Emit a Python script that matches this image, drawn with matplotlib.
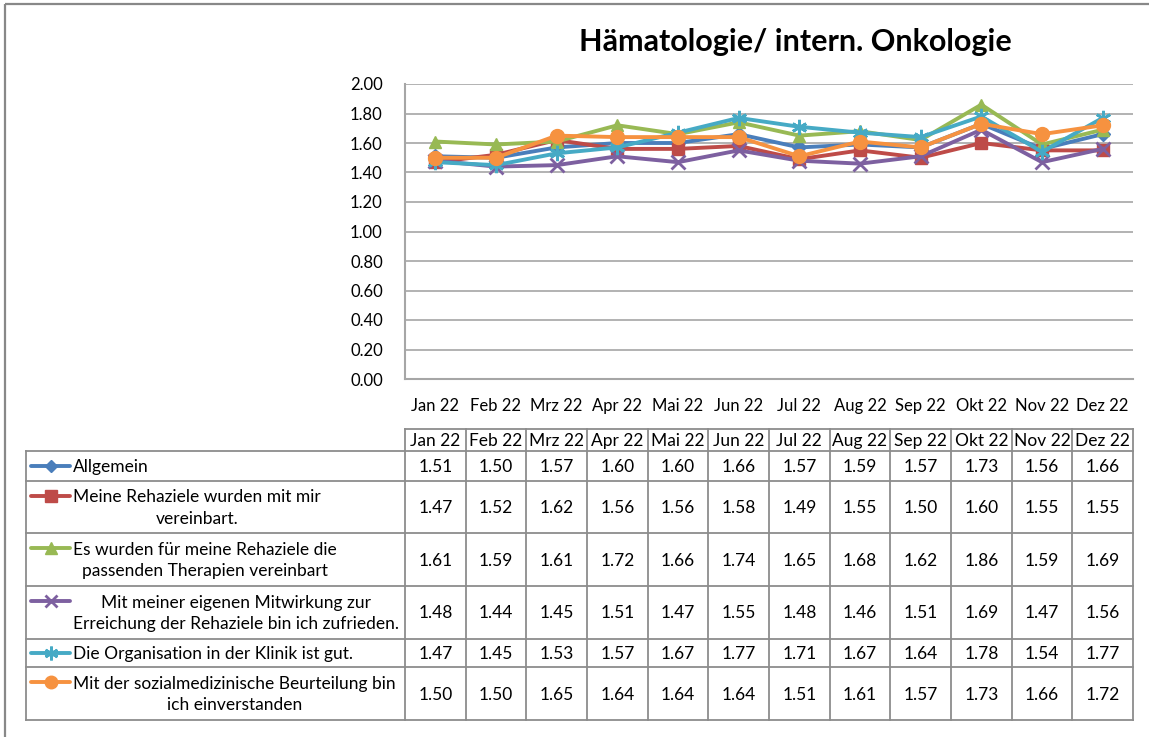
import matplotlib
matplotlib.use("Agg")
import matplotlib.pyplot as plt
from matplotlib.lines import Line2D
from matplotlib.patches import Rectangle

plt.rcParams['font.family'] = ['Lato', 'DejaVu Sans']

months = ["Jan 22", "Feb 22", "Mrz 22", "Apr 22", "Mai 22", "Jun 22",
          "Jul 22", "Aug 22", "Sep 22", "Okt 22", "Nov 22", "Dez 22"]

series_names = [
    "Allgemein",
    "Meine Rehaziele wurden mit mir\nvereinbart.",
    "Es wurden für meine Rehaziele die\npassenden Therapien vereinbart",
    "Mit meiner eigenen Mitwirkung zur\nErreichung der Rehaziele bin ich zufrieden.",
    "Die Organisation in der Klinik ist gut.",
    "Mit der sozialmedizinische Beurteilung bin\nich einverstanden",
]

allgemein = [1.51, 1.50, 1.57, 1.60, 1.60, 1.66, 1.57, 1.59, 1.57, 1.73, 1.56, 1.66]
rehaziele = [1.47, 1.52, 1.62, 1.56, 1.56, 1.58, 1.49, 1.55, 1.50, 1.60, 1.55, 1.55]
therapien = [1.61, 1.59, 1.61, 1.72, 1.66, 1.74, 1.65, 1.68, 1.62, 1.86, 1.59, 1.69]
mitwirkung = [1.48, 1.44, 1.45, 1.51, 1.47, 1.55, 1.48, 1.46, 1.51, 1.69, 1.47, 1.56]
organisation = [1.47, 1.45, 1.53, 1.57, 1.67, 1.77, 1.71, 1.67, 1.64, 1.78, 1.54, 1.77]
beurteilung = [1.50, 1.50, 1.65, 1.64, 1.64, 1.64, 1.51, 1.61, 1.57, 1.73, 1.66, 1.72]

all_series = [allgemein, rehaziele, therapien, mitwirkung, organisation, beurteilung]

colors = ["#4A7EBB", "#BE4B48", "#98B954", "#7D60A0", "#46AAC5", "#F69240"]
markers = ["D", "s", "^", "x", (6, 2, 0), "o"]
msizes = [7, 9, 9, 10, 11, 10]

W, H = 1149, 737
fig = plt.figure(figsize=(W / 100, H / 100), dpi=100)

# pixel geometry
px_l, px_r, px_t, px_b = 405, 1133, 84, 379
ax = fig.add_axes([px_l / W, 1 - px_b / H, (px_r - px_l) / W, (px_b - px_t) / H])

x = list(range(len(months)))
for vals, c, m, ms in zip(all_series, colors, markers, msizes):
    mew = 2.0 if m in ("x", (6, 2, 0)) else 1.0
    ax.plot(x, vals, color=c, lw=2.8, marker=m, markersize=ms,
            markeredgecolor=c, markerfacecolor=c, markeredgewidth=mew, zorder=3)

ax.set_xlim(-0.5, len(months) - 0.5)
ax.set_ylim(0, 2.0)
ax.set_yticks([i * 0.2 for i in range(11)])
ax.set_yticklabels([f"{i * 0.2:.2f}" for i in range(11)], fontsize=12)
ax.set_xticks(x)
ax.set_xticklabels(months, fontsize=12)
ax.tick_params(axis='y', length=0, pad=16)
ax.tick_params(axis='x', length=0, pad=14)
ax.yaxis.grid(True, color="#A6A6A6", lw=1.2)
ax.set_axisbelow(True)
for s in ["top", "right"]:
    ax.spines[s].set_visible(False)
for s in ["left", "bottom"]:
    ax.spines[s].set_color("#A6A6A6")
    ax.spines[s].set_linewidth(1.5)

fig.text(795 / W, 1 - 42 / H, "Hämatologie/ intern. Onkologie", fontsize=22,
         fontweight="bold", ha="center", va="center")

# overlay axes in pixel coordinates for data table
ov = fig.add_axes([0, 0, 1, 1])
ov.set_xlim(0, W)
ov.set_ylim(H, 0)
ov.axis("off")

# chart border
ov.add_patch(Rectangle((5, 4), W + 10, H + 10, fill=False, ec="#888888", lw=1.6))

tc = "#8C8C8C"
tlw = 1.3
fs_tab = 12.5
col_w = (px_r - px_l) / len(months)
head_t, head_b = 429, 451
row_edges = [451, 481, 533, 586, 639, 667, 720]
tab_left = 26

# header row
ov.plot([px_l, px_r], [head_t, head_t], color=tc, lw=tlw)
for i in range(len(months) + 1):
    xx = px_l + i * col_w
    ov.plot([xx, xx], [head_t, row_edges[-1]], color=tc, lw=tlw)
for i, mth in enumerate(months):
    ov.text(px_l + (i + 0.5) * col_w, (head_t + head_b) / 2 + 1, mth,
            ha="center", va="center", fontsize=fs_tab)
# row lines
for k, yy in enumerate(row_edges):
    ov.plot([tab_left, px_r], [yy, yy], color=tc, lw=tlw)
ov.plot([tab_left, tab_left], [row_edges[0], row_edges[-1]], color=tc, lw=tlw)

line_h = 23
for r, (name, vals, c, m, ms) in enumerate(zip(series_names, all_series, colors, markers, msizes)):
    top, bot = row_edges[r], row_edges[r + 1]
    cy = (top + bot) / 2
    nlines = name.count("\n") + 1
    first_y = cy - (nlines - 1) * line_h / 2
    mew = 2.0 if m in ("x", (6, 2, 0)) else 1.0
    ov.plot([31, 70], [first_y, first_y], color=c, lw=2.8, solid_capstyle="round")
    ov.plot([50.5], [first_y], marker=m, color=c, markersize=ms * 0.9,
            markeredgewidth=mew, markerfacecolor=c, markeredgecolor=c)
    ov.text(73, cy + 1, name, ha="left", va="center", multialignment="center",
            fontsize=fs_tab, linespacing=1.4)
    for i, v in enumerate(vals):
        ov.text(px_l + (i + 0.5) * col_w, cy + 1, f"{v:.2f}", ha="center",
                va="center", fontsize=fs_tab)

fig.savefig("out.png", dpi=100, facecolor="white")
